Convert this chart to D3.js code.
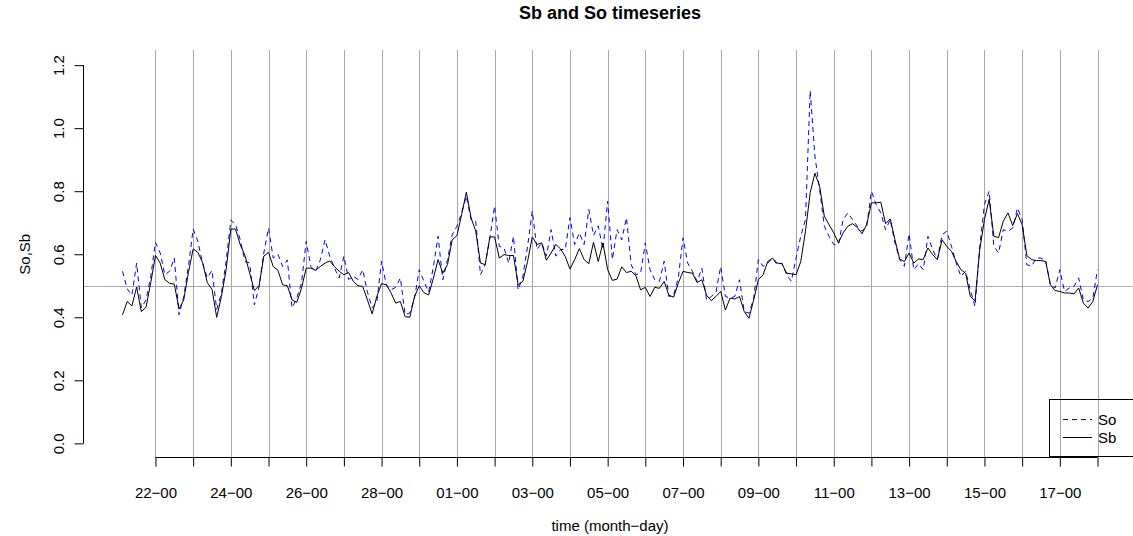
<!DOCTYPE html>
<html>
<head>
<meta charset="utf-8">
<script src="https://cdn.jsdelivr.net/npm/d3@7"></script>
<style>
  body { margin: 0; background: #fff; }
  text { font-family: "Liberation Sans", Arial, sans-serif; fill: #000; }
</style>
</head>
<body>
<div id="chart"></div>
<script>
// 3-hourly series, starting 21 Feb 03:00
var startTime = new Date(Date.UTC(2016, 1, 21, 3));
var stepHours = 3;

var sbValues = [
  0.408, 0.45, 0.436, 0.496, 0.418, 0.432, 0.51, 0.596,
  0.572, 0.519, 0.508, 0.505, 0.426, 0.455, 0.542, 0.617,
  0.606, 0.574, 0.51, 0.489, 0.40, 0.466, 0.551, 0.68,
  0.68, 0.63, 0.596, 0.54, 0.485, 0.5, 0.594, 0.606,
  0.561, 0.549, 0.503, 0.5, 0.455, 0.447, 0.492, 0.556,
  0.556, 0.549, 0.561, 0.572, 0.579, 0.561, 0.546, 0.535,
  0.542, 0.514, 0.5, 0.498, 0.455, 0.411, 0.466, 0.507,
  0.503, 0.478, 0.445, 0.45, 0.402, 0.40, 0.466, 0.5,
  0.478, 0.471, 0.524, 0.583, 0.54, 0.567, 0.646, 0.659,
  0.726, 0.797, 0.716, 0.673, 0.572, 0.567, 0.655, 0.655,
  0.588, 0.599, 0.596, 0.596, 0.503, 0.514, 0.577, 0.655,
  0.631, 0.636, 0.581, 0.604, 0.631, 0.617, 0.593, 0.553,
  0.583, 0.618, 0.583, 0.570, 0.638, 0.577, 0.636, 0.551,
  0.517, 0.521, 0.56, 0.542, 0.546, 0.532, 0.487, 0.495,
  0.466, 0.495, 0.492, 0.514, 0.47, 0.464, 0.508, 0.546,
  0.542, 0.54, 0.51, 0.519, 0.47, 0.453, 0.466, 0.482,
  0.423, 0.461, 0.458, 0.466, 0.418, 0.397, 0.455, 0.519,
  0.535, 0.577, 0.588, 0.572, 0.57, 0.54, 0.538, 0.535,
  0.577, 0.673, 0.795, 0.857, 0.816, 0.721, 0.694, 0.668,
  0.636, 0.668, 0.689, 0.697, 0.685, 0.665, 0.694, 0.763,
  0.763, 0.765, 0.697, 0.712, 0.646, 0.585, 0.577, 0.604,
  0.572, 0.585, 0.583, 0.62, 0.599, 0.583, 0.646, 0.625,
  0.609, 0.577, 0.551, 0.54, 0.466, 0.452, 0.615, 0.71,
  0.774, 0.657, 0.653, 0.705, 0.731, 0.691, 0.729, 0.694,
  0.596, 0.583, 0.58, 0.58, 0.577, 0.503, 0.485, 0.482,
  0.477, 0.477, 0.474, 0.493, 0.445, 0.429, 0.45, 0.503
];

var soValues = [
  0.546, 0.49, 0.47, 0.572, 0.43, 0.455, 0.53, 0.638,
  0.604, 0.535, 0.546, 0.588, 0.408, 0.466, 0.561, 0.68,
  0.641, 0.572, 0.525, 0.549, 0.425, 0.476, 0.578, 0.708,
  0.694, 0.646, 0.578, 0.572, 0.439, 0.497, 0.604, 0.683,
  0.588, 0.6, 0.561, 0.582, 0.43, 0.461, 0.508, 0.641,
  0.561, 0.546, 0.582, 0.646, 0.594, 0.556, 0.525, 0.594,
  0.52, 0.53, 0.52, 0.551, 0.48, 0.43, 0.45, 0.578,
  0.503, 0.487, 0.495, 0.525, 0.408, 0.414, 0.461, 0.551,
  0.514, 0.48, 0.56, 0.657, 0.519, 0.583, 0.662, 0.689,
  0.731, 0.784, 0.71, 0.705, 0.535, 0.567, 0.652, 0.753,
  0.625, 0.62, 0.572, 0.657, 0.487, 0.53, 0.625, 0.737,
  0.615, 0.636, 0.594, 0.678, 0.594, 0.615, 0.615, 0.716,
  0.631, 0.668, 0.631, 0.742, 0.66, 0.69, 0.615, 0.768,
  0.583, 0.678, 0.646, 0.716, 0.567, 0.535, 0.54, 0.636,
  0.551, 0.519, 0.514, 0.578, 0.466, 0.47, 0.525, 0.652,
  0.572, 0.546, 0.514, 0.556, 0.455, 0.466, 0.48, 0.561,
  0.466, 0.461, 0.466, 0.519, 0.418, 0.413, 0.46, 0.583,
  0.562, 0.572, 0.588, 0.566, 0.572, 0.535, 0.514, 0.588,
  0.657, 0.71, 1.119, 0.912, 0.806, 0.689, 0.657, 0.631,
  0.631, 0.71, 0.731, 0.71, 0.689, 0.673, 0.689, 0.8,
  0.758, 0.731, 0.678, 0.71, 0.636, 0.583, 0.562, 0.665,
  0.551, 0.57, 0.551, 0.657, 0.615, 0.583, 0.662, 0.673,
  0.625, 0.572, 0.53, 0.546, 0.487, 0.434, 0.625, 0.758,
  0.8, 0.625, 0.604, 0.678, 0.673, 0.683, 0.747, 0.71,
  0.567, 0.562, 0.588, 0.588, 0.58, 0.503, 0.493, 0.551,
  0.482, 0.493, 0.498, 0.525, 0.455, 0.45, 0.46, 0.551
];

var yTicks = [0, 0.2, 0.4, 0.6, 0.8, 1.0, 1.2];
var tickStart = new Date(Date.UTC(2016, 1, 22));
var tickEnd = new Date(Date.UTC(2016, 2, 18));
var refLevel = 0.5;
var legendLabels = ["So", "Sb"];

var width = 1133, height = 536;
var plot = {left: 83.5, right: 1136.5, top: 50, bottom: 458.5};

var times = sbValues.map(function(d, i) { return d3.utcHour.offset(startTime, i * stepHours); });

var svg = d3.select("#chart").append("svg")
  .attr("width", width)
  .attr("height", height);

// R-style 4% padding on the x range
var t0 = times[0], t1 = times[times.length - 1];
var pad = (t1 - t0) * 0.04;
var x = d3.scaleUtc()
  .domain([new Date(+t0 - pad), new Date(+t1 + pad)])
  .range([plot.left, plot.right]);

var y = d3.scaleLinear()
  .domain([-0.048, 1.248])
  .range([plot.bottom, plot.top]);

var dayTicks = d3.utcDay.range(tickStart, d3.utcHour.offset(tickEnd, 1));
var fmtDay = d3.utcFormat("%d");

// grid: vertical lines on each day, horizontal at 0.5
svg.append("g")
  .selectAll("line")
  .data(dayTicks)
  .enter().append("line")
    .attr("x1", function(d) { return Math.round(x(d)) + 0.5; })
    .attr("x2", function(d) { return Math.round(x(d)) + 0.5; })
    .attr("y1", plot.top)
    .attr("y2", 457.5)
    .attr("stroke", "#a9a9a9")
    .attr("stroke-width", 1);

svg.append("line")
  .attr("x1", plot.left)
  .attr("x2", width)
  .attr("y1", Math.round(y(refLevel)) + 0.5)
  .attr("y2", Math.round(y(refLevel)) + 0.5)
  .attr("stroke", "#a9a9a9")
  .attr("stroke-width", 1);

// series
var line = d3.line()
  .x(function(d, i) { return x(times[i]); })
  .y(function(d) { return y(d); });

svg.append("path")
  .datum(soValues)
  .attr("d", line)
  .attr("fill", "none")
  .attr("stroke", "#0000ff")
  .attr("stroke-width", 1)
  .attr("stroke-dasharray", "5,4");

svg.append("path")
  .datum(sbValues)
  .attr("d", line)
  .attr("fill", "none")
  .attr("stroke", "#000")
  .attr("stroke-width", 1);

// x axis
var xAxis = svg.append("g")
  .attr("transform", "translate(0,457.5)")
  .call(d3.axisBottom(x)
    .tickValues(dayTicks)
    .tickSize(9)
    .tickPadding(21)
    .tickFormat(function(d, i) { return i % 2 === 0 ? fmtDay(d) + "\u221200" : ""; }));
xAxis.select(".domain").remove();
xAxis.selectAll(".tick line").attr("stroke", "#000");
xAxis.selectAll(".tick text")
  .style("font-size", "15px")
  .style("font-family", "'Liberation Sans', Arial, sans-serif")
  .attr("fill", "#000");
xAxis.append("line")
  .attr("x1", x(dayTicks[0]))
  .attr("x2", x(dayTicks[dayTicks.length - 1]))
  .attr("stroke", "#000");

// y axis
var yAxis = svg.append("g")
  .attr("transform", "translate(83.5,0)")
  .call(d3.axisLeft(y).tickValues(yTicks).tickSize(9).tickFormat(d3.format(".1f")));
yAxis.select(".domain").remove();
yAxis.selectAll(".tick line").attr("stroke", "#000");
yAxis.selectAll(".tick text")
  .attr("x", null).attr("dy", null)
  .attr("transform", "translate(-20,0) rotate(-90)")
  .attr("text-anchor", "middle")
  .style("font-size", "15px")
  .style("font-family", "'Liberation Sans', Arial, sans-serif")
  .attr("fill", "#000");
yAxis.append("line")
  .attr("y1", y(yTicks[0]))
  .attr("y2", y(yTicks[yTicks.length - 1]))
  .attr("stroke", "#000");

var midX = (plot.left + plot.right) / 2;

// title and axis labels
svg.append("text")
  .attr("x", midX)
  .attr("y", 19)
  .attr("text-anchor", "middle")
  .style("font-size", "18px")
  .style("font-weight", "bold")
  .text("Sb and So timeseries");

svg.append("text")
  .attr("x", midX)
  .attr("y", 531)
  .attr("text-anchor", "middle")
  .style("font-size", "15px")
  .text("time (month\u2212day)");

svg.append("text")
  .attr("transform", "translate(30," + (plot.top + plot.bottom) / 2 + ") rotate(-90)")
  .attr("text-anchor", "middle")
  .style("font-size", "15px")
  .text("So,Sb");

// legend (bottom right, partly outside the window like the original)
var legend = svg.append("g");
legend.append("rect")
  .attr("x", 1049.5)
  .attr("y", 399.5)
  .attr("width", 87)
  .attr("height", 57)
  .attr("fill", "none")
  .attr("stroke", "#000");

var legendStyles = [
  {color: "#0000ff", dash: "5,4"},
  {color: "#000", dash: null}
];
legend.selectAll(".lg")
  .data(legendLabels)
  .enter().append("line")
    .attr("x1", 1063)
    .attr("x2", 1092)
    .attr("y1", function(d, i) { return 419.5 + i * 18; })
    .attr("y2", function(d, i) { return 419.5 + i * 18; })
    .attr("stroke", function(d, i) { return legendStyles[i].color; })
    .attr("stroke-dasharray", function(d, i) { return legendStyles[i].dash; });

legend.selectAll("text")
  .data(legendLabels)
  .enter().append("text")
    .attr("x", 1098)
    .attr("y", function(d, i) { return 424.5 + i * 18; })
    .style("font-size", "15px")
    .text(function(d) { return d; });
</script>
</body>
</html>
